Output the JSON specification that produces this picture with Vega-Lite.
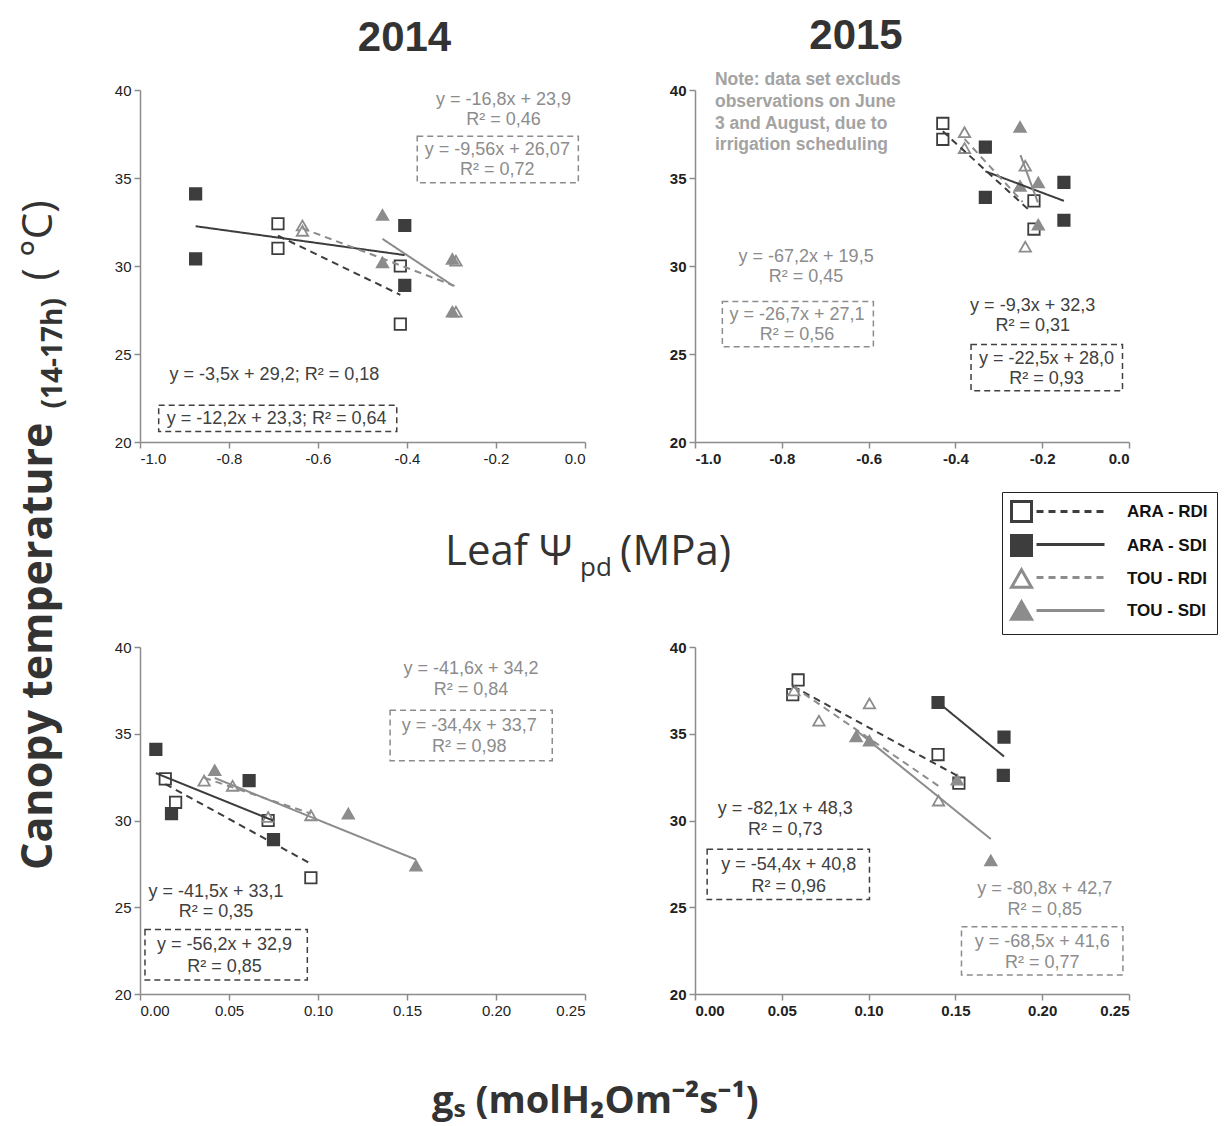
{
  "$schema": "https://vega.github.io/schema/vega-lite/v6.json",
  "autosize": {"type": "none"},
  "padding": {"left": 140, "top": 90, "right": 1087, "bottom": 1036},
  "background": "white",
  "config": {
    "locale": {"number": {"decimal": ".", "thousands": ",", "grouping": [3], "currency": ["", ""], "minus": "-"}},
    "view": {"stroke": null},
    "axis": {"grid": false, "domainColor": "#8c8c8c", "domainWidth": 1.5, "tickColor": "#8c8c8c", "tickWidth": 1.5, "tickSize": 6, "labelFont": "Liberation Sans", "labelFontSize": 15, "labelColor": "#222", "labelPadding": 3}
  },
  "datasets": {
    "points": [
      {"panel": "psi14", "series": "ARA - RDI", "x": -0.69, "y": 32.4},
      {"panel": "psi14", "series": "ARA - RDI", "x": -0.69, "y": 31.0},
      {"panel": "psi14", "series": "ARA - RDI", "x": -0.415, "y": 30.0},
      {"panel": "psi14", "series": "ARA - RDI", "x": -0.415, "y": 26.7},
      {"panel": "psi14", "series": "ARA - SDI", "x": -0.875, "y": 34.1},
      {"panel": "psi14", "series": "ARA - SDI", "x": -0.875, "y": 30.4},
      {"panel": "psi14", "series": "ARA - SDI", "x": -0.405, "y": 32.3},
      {"panel": "psi14", "series": "ARA - SDI", "x": -0.405, "y": 28.9},
      {"panel": "psi14", "series": "TOU - RDI", "x": -0.635, "y": 32.3},
      {"panel": "psi14", "series": "TOU - RDI", "x": -0.635, "y": 32.0},
      {"panel": "psi14", "series": "TOU - RDI", "x": -0.29, "y": 30.3},
      {"panel": "psi14", "series": "TOU - RDI", "x": -0.29, "y": 27.4},
      {"panel": "psi14", "series": "TOU - SDI", "x": -0.455, "y": 32.9},
      {"panel": "psi14", "series": "TOU - SDI", "x": -0.455, "y": 30.2},
      {"panel": "psi14", "series": "TOU - SDI", "x": -0.298, "y": 30.4},
      {"panel": "psi14", "series": "TOU - SDI", "x": -0.298, "y": 27.4},

      {"panel": "psi15", "series": "ARA - RDI", "x": -0.429, "y": 38.1},
      {"panel": "psi15", "series": "ARA - RDI", "x": -0.429, "y": 37.2},
      {"panel": "psi15", "series": "ARA - RDI", "x": -0.219, "y": 33.7},
      {"panel": "psi15", "series": "ARA - RDI", "x": -0.219, "y": 32.1},
      {"panel": "psi15", "series": "ARA - SDI", "x": -0.331, "y": 36.75},
      {"panel": "psi15", "series": "ARA - SDI", "x": -0.331, "y": 33.9},
      {"panel": "psi15", "series": "ARA - SDI", "x": -0.15, "y": 34.75},
      {"panel": "psi15", "series": "ARA - SDI", "x": -0.15, "y": 32.6},
      {"panel": "psi15", "series": "TOU - RDI", "x": -0.379, "y": 37.6},
      {"panel": "psi15", "series": "TOU - RDI", "x": -0.379, "y": 36.7},
      {"panel": "psi15", "series": "TOU - RDI", "x": -0.239, "y": 35.7},
      {"panel": "psi15", "series": "TOU - RDI", "x": -0.239, "y": 31.1},
      {"panel": "psi15", "series": "TOU - SDI", "x": -0.251, "y": 37.9},
      {"panel": "psi15", "series": "TOU - SDI", "x": -0.251, "y": 34.55},
      {"panel": "psi15", "series": "TOU - SDI", "x": -0.209, "y": 34.75},
      {"panel": "psi15", "series": "TOU - SDI", "x": -0.209, "y": 32.35},

      {"panel": "gs14", "series": "ARA - RDI", "x": 0.0142, "y": 32.4},
      {"panel": "gs14", "series": "ARA - RDI", "x": 0.02, "y": 31.05},
      {"panel": "gs14", "series": "ARA - RDI", "x": 0.072, "y": 30.0},
      {"panel": "gs14", "series": "ARA - RDI", "x": 0.096, "y": 26.7},
      {"panel": "gs14", "series": "ARA - SDI", "x": 0.0089, "y": 34.1},
      {"panel": "gs14", "series": "ARA - SDI", "x": 0.0177, "y": 30.4},
      {"panel": "gs14", "series": "ARA - SDI", "x": 0.0613, "y": 32.3},
      {"panel": "gs14", "series": "ARA - SDI", "x": 0.075, "y": 28.9},
      {"panel": "gs14", "series": "TOU - RDI", "x": 0.036, "y": 32.3},
      {"panel": "gs14", "series": "TOU - RDI", "x": 0.052, "y": 32.0},
      {"panel": "gs14", "series": "TOU - RDI", "x": 0.072, "y": 30.2},
      {"panel": "gs14", "series": "TOU - RDI", "x": 0.096, "y": 30.3},
      {"panel": "gs14", "series": "TOU - SDI", "x": 0.042, "y": 32.9},
      {"panel": "gs14", "series": "TOU - SDI", "x": 0.117, "y": 30.4},
      {"panel": "gs14", "series": "TOU - SDI", "x": 0.155, "y": 27.4},

      {"panel": "gs15", "series": "ARA - RDI", "x": 0.0563, "y": 37.25},
      {"panel": "gs15", "series": "ARA - RDI", "x": 0.0594, "y": 38.1},
      {"panel": "gs15", "series": "ARA - RDI", "x": 0.14, "y": 33.8},
      {"panel": "gs15", "series": "ARA - RDI", "x": 0.152, "y": 32.15},
      {"panel": "gs15", "series": "ARA - SDI", "x": 0.14, "y": 36.8},
      {"panel": "gs15", "series": "ARA - SDI", "x": 0.178, "y": 34.8},
      {"panel": "gs15", "series": "ARA - SDI", "x": 0.1776, "y": 32.6},
      {"panel": "gs15", "series": "TOU - RDI", "x": 0.057, "y": 37.5},
      {"panel": "gs15", "series": "TOU - RDI", "x": 0.0714, "y": 35.75},
      {"panel": "gs15", "series": "TOU - RDI", "x": 0.1005, "y": 36.75},
      {"panel": "gs15", "series": "TOU - RDI", "x": 0.1403, "y": 31.15},
      {"panel": "gs15", "series": "TOU - SDI", "x": 0.0928, "y": 34.85},
      {"panel": "gs15", "series": "TOU - SDI", "x": 0.1005, "y": 34.6},
      {"panel": "gs15", "series": "TOU - SDI", "x": 0.151, "y": 32.35},
      {"panel": "gs15", "series": "TOU - SDI", "x": 0.1704, "y": 27.7}
    ],
    "trends": [
      {"panel": "psi14", "trend": "ARA - RDI", "x": -0.69, "y": 31.72},
      {"panel": "psi14", "trend": "ARA - RDI", "x": -0.415, "y": 28.36},
      {"panel": "psi14", "trend": "ARA - SDI", "x": -0.875, "y": 32.26},
      {"panel": "psi14", "trend": "ARA - SDI", "x": -0.405, "y": 30.62},
      {"panel": "psi14", "trend": "TOU - RDI", "x": -0.635, "y": 32.14},
      {"panel": "psi14", "trend": "TOU - RDI", "x": -0.293, "y": 28.87},
      {"panel": "psi14", "trend": "TOU - SDI", "x": -0.455, "y": 31.54},
      {"panel": "psi14", "trend": "TOU - SDI", "x": -0.296, "y": 28.87},

      {"panel": "psi15", "trend": "ARA - RDI", "x": -0.429, "y": 37.65},
      {"panel": "psi15", "trend": "ARA - RDI", "x": -0.225, "y": 33.06},
      {"panel": "psi15", "trend": "ARA - SDI", "x": -0.331, "y": 35.38},
      {"panel": "psi15", "trend": "ARA - SDI", "x": -0.15, "y": 33.7},
      {"panel": "psi15", "trend": "TOU - RDI", "x": -0.379, "y": 37.22},
      {"panel": "psi15", "trend": "TOU - RDI", "x": -0.245, "y": 33.64},
      {"panel": "psi15", "trend": "TOU - SDI", "x": -0.25, "y": 36.3},
      {"panel": "psi15", "trend": "TOU - SDI", "x": -0.21, "y": 33.61},

      {"panel": "gs14", "trend": "ARA - RDI", "x": 0.0142, "y": 32.1},
      {"panel": "gs14", "trend": "ARA - RDI", "x": 0.097, "y": 27.45},
      {"panel": "gs14", "trend": "ARA - SDI", "x": 0.0089, "y": 32.73},
      {"panel": "gs14", "trend": "ARA - SDI", "x": 0.075, "y": 29.99},
      {"panel": "gs14", "trend": "TOU - RDI", "x": 0.036, "y": 32.46},
      {"panel": "gs14", "trend": "TOU - RDI", "x": 0.096, "y": 30.4},
      {"panel": "gs14", "trend": "TOU - SDI", "x": 0.042, "y": 32.45},
      {"panel": "gs14", "trend": "TOU - SDI", "x": 0.155, "y": 27.75},

      {"panel": "gs15", "trend": "ARA - RDI", "x": 0.0563, "y": 37.74},
      {"panel": "gs15", "trend": "ARA - RDI", "x": 0.152, "y": 32.53},
      {"panel": "gs15", "trend": "ARA - SDI", "x": 0.14, "y": 36.81},
      {"panel": "gs15", "trend": "ARA - SDI", "x": 0.178, "y": 33.69},
      {"panel": "gs15", "trend": "TOU - RDI", "x": 0.057, "y": 37.7},
      {"panel": "gs15", "trend": "TOU - RDI", "x": 0.1403, "y": 31.99},
      {"panel": "gs15", "trend": "TOU - SDI", "x": 0.0928, "y": 35.2},
      {"panel": "gs15", "trend": "TOU - SDI", "x": 0.1704, "y": 28.93}
    ],
    "notes": [
      {"panel": "psi14", "grp": "TOU", "x": -0.183, "y": 39.43, "text": "y = -16,8x + 23,9"},
      {"panel": "psi14", "grp": "TOU", "x": -0.183, "y": 38.28, "text": "R² = 0,46"},
      {"panel": "psi14", "grp": "TOU", "x": -0.197, "y": 36.61, "text": "y = -9,56x + 26,07"},
      {"panel": "psi14", "grp": "TOU", "x": -0.197, "y": 35.44, "text": "R² = 0,72"},
      {"panel": "psi14", "grp": "ARA", "x": -0.698, "y": 23.81, "text": "y = -3,5x + 29,2; R² = 0,18"},
      {"panel": "psi14", "grp": "ARA", "x": -0.693, "y": 21.32, "text": "y = -12,2x + 23,3; R² = 0,64"},

      {"panel": "psi15", "grp": "TOU", "x": -0.744, "y": 30.52, "text": "y = -67,2x + 19,5"},
      {"panel": "psi15", "grp": "TOU", "x": -0.744, "y": 29.39, "text": "R² = 0,45"},
      {"panel": "psi15", "grp": "TOU", "x": -0.765, "y": 27.23, "text": "y = -26,7x + 27,1"},
      {"panel": "psi15", "grp": "TOU", "x": -0.765, "y": 26.1, "text": "R² = 0,56"},
      {"panel": "psi15", "grp": "ARA", "x": -0.222, "y": 27.7, "text": "y = -9,3x + 32,3"},
      {"panel": "psi15", "grp": "ARA", "x": -0.222, "y": 26.57, "text": "R² = 0,31"},
      {"panel": "psi15", "grp": "ARA", "x": -0.19, "y": 24.69, "text": "y = -22,5x + 28,0"},
      {"panel": "psi15", "grp": "ARA", "x": -0.19, "y": 23.57, "text": "R² = 0,93"},

      {"panel": "gs14", "grp": "TOU", "x": 0.186, "y": 38.72, "text": "y = -41,6x + 34,2"},
      {"panel": "gs14", "grp": "TOU", "x": 0.186, "y": 37.51, "text": "R² = 0,84"},
      {"panel": "gs14", "grp": "TOU", "x": 0.185, "y": 35.46, "text": "y = -34,4x + 33,7"},
      {"panel": "gs14", "grp": "TOU", "x": 0.185, "y": 34.21, "text": "R² = 0,98"},
      {"panel": "gs14", "grp": "ARA", "x": 0.0427, "y": 25.88, "text": "y = -41,5x + 33,1"},
      {"panel": "gs14", "grp": "ARA", "x": 0.0427, "y": 24.73, "text": "R² = 0,35"},
      {"panel": "gs14", "grp": "ARA", "x": 0.0475, "y": 22.82, "text": "y = -56,2x + 32,9"},
      {"panel": "gs14", "grp": "ARA", "x": 0.0475, "y": 21.57, "text": "R² = 0,85"},

      {"panel": "gs15", "grp": "ARA", "x": 0.052, "y": 30.64, "text": "y = -82,1x + 48,3"},
      {"panel": "gs15", "grp": "ARA", "x": 0.052, "y": 29.48, "text": "R² = 0,73"},
      {"panel": "gs15", "grp": "ARA", "x": 0.054, "y": 27.44, "text": "y = -54,4x + 40,8"},
      {"panel": "gs15", "grp": "ARA", "x": 0.054, "y": 26.17, "text": "R² = 0,96"},
      {"panel": "gs15", "grp": "TOU", "x": 0.2015, "y": 26.08, "text": "y = -80,8x + 42,7"},
      {"panel": "gs15", "grp": "TOU", "x": 0.2015, "y": 24.85, "text": "R² = 0,85"},
      {"panel": "gs15", "grp": "TOU", "x": 0.2, "y": 22.97, "text": "y = -68,5x + 41,6"},
      {"panel": "gs15", "grp": "TOU", "x": 0.2, "y": 21.77, "text": "R² = 0,77"}
    ],
    "boxes": [
      {"panel": "psi14", "grp": "TOU", "x": -0.377, "x2": -0.015, "y": 34.73, "y2": 37.37},
      {"panel": "psi14", "grp": "ARA", "x": -0.958, "x2": -0.423, "y": 20.59, "y2": 22.09},
      {"panel": "psi15", "grp": "TOU", "x": -0.937, "x2": -0.589, "y": 25.41, "y2": 27.98},
      {"panel": "psi15", "grp": "ARA", "x": -0.364, "x2": -0.015, "y": 22.91, "y2": 25.54},
      {"panel": "gs14", "grp": "TOU", "x": 0.1405, "x2": 0.2316, "y": 33.45, "y2": 36.36},
      {"panel": "gs14", "grp": "ARA", "x": 0.0028, "x2": 0.094, "y": 20.8, "y2": 23.72},
      {"panel": "gs15", "grp": "ARA", "x": 0.007, "x2": 0.1005, "y": 25.44, "y2": 28.35},
      {"panel": "gs15", "grp": "TOU", "x": 0.1535, "x2": 0.2465, "y": 21.09, "y2": 23.88}
    ],
    "note2015": [
      {"x": -0.954, "y": 40.56, "text": "Note: data set excluds"},
      {"x": -0.954, "y": 39.3, "text": "observations on  June"},
      {"x": -0.954, "y": 38.07, "text": "3 and August, due to"},
      {"x": -0.954, "y": 36.85, "text": "irrigation scheduling"}
    ]
  },
  "columns": 2,
  "spacing": {"row": 205, "column": 110},
  "bounds": "flush",
  "resolve": {"scale": {"x": "independent", "y": "independent", "color": "independent", "fill": "independent", "stroke": "independent", "shape": "independent", "strokeDash": "independent"}},
  "concat": [
    {
      "width": 445, "height": 352,
      "title": {"text": "2014", "frame": "group", "anchor": "middle", "dx": 42, "dy": 42, "offset": 32, "baseline": "alphabetic", "font": "Liberation Sans", "fontSize": 42, "fontWeight": "bold", "color": "#333"},
      "resolve": {"scale": {"color": "independent", "fill": "independent", "stroke": "independent", "shape": "independent", "strokeDash": "independent"}},
      "layer": [
        {
          "data": {"name": "points"},
          "transform": [{"filter": "datum.panel == 'psi14'"}],
          "mark": {"type": "point", "filled": true, "opacity": 1, "size": 130, "strokeWidth": 1.8},
          "encoding": {
            "x": {"field": "x", "type": "quantitative", "scale": {"domain": [-1, 0], "nice": false, "zero": false}, "axis": {"title": null, "values": [-1, -0.8, -0.6, -0.4, -0.2, 0], "format": ".1f"}},
            "y": {"field": "y", "type": "quantitative", "scale": {"domain": [20, 40], "nice": false, "zero": false}, "axis": {"title": null, "values": [20, 25, 30, 35, 40]}},
            "shape": {"field": "series", "type": "nominal", "scale": {"domain": ["ARA - RDI", "ARA - SDI", "TOU - RDI", "TOU - SDI"], "range": ["square", "square", "triangle-up", "triangle-up"]}, "legend": null},
            "fill": {"field": "series", "type": "nominal", "scale": {"domain": ["ARA - RDI", "ARA - SDI", "TOU - RDI", "TOU - SDI"], "range": ["#ffffff", "#3d3d3d", "#ffffff", "#8c8c8c"]}, "legend": null},
            "stroke": {"field": "series", "type": "nominal", "scale": {"domain": ["ARA - RDI", "ARA - SDI", "TOU - RDI", "TOU - SDI"], "range": ["#3d3d3d", "#3d3d3d", "#8c8c8c", "#8c8c8c"]}, "legend": null}
          }
        },
        {
          "data": {"name": "trends"},
          "transform": [{"filter": "datum.panel == 'psi14'"}],
          "mark": {"type": "line", "strokeWidth": 2},
          "encoding": {
            "x": {"field": "x", "type": "quantitative"},
            "y": {"field": "y", "type": "quantitative"},
            "color": {"field": "trend", "type": "nominal", "scale": {"range": ["#3d3d3d", "#3d3d3d", "#8c8c8c", "#8c8c8c"]}, "legend": null},
            "strokeDash": {"field": "trend", "type": "nominal", "scale": {"range": [[7, 5], [1, 0], [7, 5], [1, 0]]}, "legend": null}
          }
        },
        {
          "data": {"name": "boxes"},
          "transform": [{"filter": "datum.panel == 'psi14'"}],
          "mark": {"type": "rect", "filled": false, "strokeDash": [6, 4], "strokeWidth": 1.5},
          "encoding": {
            "x": {"field": "x", "type": "quantitative"}, "x2": {"field": "x2"},
            "y": {"field": "y", "type": "quantitative"}, "y2": {"field": "y2"},
            "stroke": {"field": "grp", "type": "nominal", "scale": {"domain": ["ARA", "TOU"], "range": ["#404040", "#8c8c8c"]}, "legend": null}
          }
        },
        {
          "data": {"name": "notes"},
          "transform": [{"filter": "datum.panel == 'psi14'"}],
          "mark": {"type": "text", "font": "Liberation Sans", "fontSize": 18, "align": "center", "baseline": "middle"},
          "encoding": {
            "x": {"field": "x", "type": "quantitative"},
            "y": {"field": "y", "type": "quantitative"},
            "text": {"field": "text"},
            "color": {"field": "grp", "type": "nominal", "scale": {"domain": ["ARA", "TOU"], "range": ["#404040", "#8c8c8c"]}, "legend": null}
          }
        },
        {
          "data": {"values": [{"t": "Leaf Ψ"}]},
          "mark": {"type": "text", "align": "left", "baseline": "alphabetic", "dx": 82.5, "dy": 299, "font": "Open Sans", "fontSize": 42, "color": "#333"},
          "encoding": {"text": {"field": "t"}}
        },
        {
          "data": {"values": [{"t": "pd"}]},
          "mark": {"type": "text", "align": "left", "baseline": "alphabetic", "dx": 217.5, "dy": 310, "font": "Open Sans", "fontSize": 26, "color": "#333"},
          "encoding": {"text": {"field": "t"}}
        },
        {
          "data": {"values": [{"t": "(MPa)"}]},
          "mark": {"type": "text", "align": "left", "baseline": "alphabetic", "dx": 257.5, "dy": 299, "font": "Open Sans", "fontSize": 42, "color": "#333"},
          "encoding": {"text": {"field": "t"}}
        }
      ]
    },
    {
      "width": 434, "height": 352,
      "title": {"text": "2015", "frame": "group", "anchor": "middle", "dx": -56, "dy": 42, "offset": 22, "baseline": "alphabetic", "font": "Liberation Sans", "fontSize": 42, "fontWeight": "bold", "color": "#333"},
      "resolve": {"scale": {"color": "independent", "fill": "independent", "stroke": "independent", "shape": "independent", "strokeDash": "independent"}},
      "layer": [
        {
          "data": {"name": "points"},
          "transform": [{"filter": "datum.panel == 'psi15'"}],
          "mark": {"type": "point", "filled": true, "opacity": 1, "size": 130, "strokeWidth": 1.8},
          "encoding": {
            "x": {"field": "x", "type": "quantitative", "scale": {"domain": [-1, 0], "nice": false, "zero": false}, "axis": {"title": null, "values": [-1, -0.8, -0.6, -0.4, -0.2, 0], "format": ".1f", "labelFontWeight": "bold"}},
            "y": {"field": "y", "type": "quantitative", "scale": {"domain": [20, 40], "nice": false, "zero": false}, "axis": {"title": null, "values": [20, 25, 30, 35, 40], "labelFontWeight": "bold"}},
            "shape": {"field": "series", "type": "nominal", "scale": {"domain": ["ARA - RDI", "ARA - SDI", "TOU - RDI", "TOU - SDI"], "range": ["square", "square", "triangle-up", "triangle-up"]}, "legend": null},
            "fill": {"field": "series", "type": "nominal", "scale": {"domain": ["ARA - RDI", "ARA - SDI", "TOU - RDI", "TOU - SDI"], "range": ["#ffffff", "#3d3d3d", "#ffffff", "#8c8c8c"]}, "legend": null},
            "stroke": {"field": "series", "type": "nominal", "scale": {"domain": ["ARA - RDI", "ARA - SDI", "TOU - RDI", "TOU - SDI"], "range": ["#3d3d3d", "#3d3d3d", "#8c8c8c", "#8c8c8c"]}, "legend": null}
          }
        },
        {
          "data": {"name": "trends"},
          "transform": [{"filter": "datum.panel == 'psi15'"}],
          "mark": {"type": "line", "strokeWidth": 2},
          "encoding": {
            "x": {"field": "x", "type": "quantitative"},
            "y": {"field": "y", "type": "quantitative"},
            "color": {"field": "trend", "type": "nominal", "scale": {"range": ["#3d3d3d", "#3d3d3d", "#8c8c8c", "#8c8c8c"]}, "legend": null},
            "strokeDash": {"field": "trend", "type": "nominal", "scale": {"range": [[7, 5], [1, 0], [7, 5], [1, 0]]}, "legend": null}
          }
        },
        {
          "data": {"name": "boxes"},
          "transform": [{"filter": "datum.panel == 'psi15'"}],
          "mark": {"type": "rect", "filled": false, "strokeDash": [6, 4], "strokeWidth": 1.5},
          "encoding": {
            "x": {"field": "x", "type": "quantitative"}, "x2": {"field": "x2"},
            "y": {"field": "y", "type": "quantitative"}, "y2": {"field": "y2"},
            "stroke": {"field": "grp", "type": "nominal", "scale": {"domain": ["ARA", "TOU"], "range": ["#404040", "#8c8c8c"]}, "legend": null}
          }
        },
        {
          "data": {"name": "notes"},
          "transform": [{"filter": "datum.panel == 'psi15'"}],
          "mark": {"type": "text", "font": "Liberation Sans", "fontSize": 18, "align": "center", "baseline": "middle"},
          "encoding": {
            "x": {"field": "x", "type": "quantitative"},
            "y": {"field": "y", "type": "quantitative"},
            "text": {"field": "text"},
            "color": {"field": "grp", "type": "nominal", "scale": {"domain": ["ARA", "TOU"], "range": ["#404040", "#8c8c8c"]}, "legend": null}
          }
        },
        {
          "data": {"name": "note2015"},
          "mark": {"type": "text", "font": "Liberation Sans", "fontSize": 17.5, "fontWeight": "bold", "align": "left", "baseline": "middle", "color": "#a3a3a3"},
          "encoding": {
            "x": {"field": "x", "type": "quantitative"},
            "y": {"field": "y", "type": "quantitative"},
            "text": {"field": "text"}
          }
        }
      ]
    },
    {
      "width": 445, "height": 347,
      "resolve": {"scale": {"color": "independent", "fill": "independent", "stroke": "independent", "shape": "independent", "strokeDash": "independent"}},
      "layer": [
        {
          "data": {"name": "points"},
          "transform": [{"filter": "datum.panel == 'gs14'"}],
          "mark": {"type": "point", "filled": true, "opacity": 1, "size": 130, "strokeWidth": 1.8},
          "encoding": {
            "x": {"field": "x", "type": "quantitative", "scale": {"domain": [0, 0.25], "nice": false, "zero": false}, "axis": {"title": null, "values": [0, 0.05, 0.1, 0.15, 0.2, 0.25], "format": ".2f"}},
            "y": {"field": "y", "type": "quantitative", "scale": {"domain": [20, 40], "nice": false, "zero": false}, "axis": {"title": null, "values": [20, 25, 30, 35, 40]}},
            "shape": {"field": "series", "type": "nominal", "scale": {"domain": ["ARA - RDI", "ARA - SDI", "TOU - RDI", "TOU - SDI"], "range": ["square", "square", "triangle-up", "triangle-up"]}, "legend": null},
            "fill": {"field": "series", "type": "nominal", "scale": {"domain": ["ARA - RDI", "ARA - SDI", "TOU - RDI", "TOU - SDI"], "range": ["#ffffff", "#3d3d3d", "#ffffff", "#8c8c8c"]}, "legend": null},
            "stroke": {"field": "series", "type": "nominal", "scale": {"domain": ["ARA - RDI", "ARA - SDI", "TOU - RDI", "TOU - SDI"], "range": ["#3d3d3d", "#3d3d3d", "#8c8c8c", "#8c8c8c"]}, "legend": null}
          }
        },
        {
          "data": {"name": "trends"},
          "transform": [{"filter": "datum.panel == 'gs14'"}],
          "mark": {"type": "line", "strokeWidth": 2},
          "encoding": {
            "x": {"field": "x", "type": "quantitative"},
            "y": {"field": "y", "type": "quantitative"},
            "color": {"field": "trend", "type": "nominal", "scale": {"range": ["#3d3d3d", "#3d3d3d", "#8c8c8c", "#8c8c8c"]}, "legend": null},
            "strokeDash": {"field": "trend", "type": "nominal", "scale": {"range": [[7, 5], [1, 0], [7, 5], [1, 0]]}, "legend": null}
          }
        },
        {
          "data": {"name": "boxes"},
          "transform": [{"filter": "datum.panel == 'gs14'"}],
          "mark": {"type": "rect", "filled": false, "strokeDash": [6, 4], "strokeWidth": 1.5},
          "encoding": {
            "x": {"field": "x", "type": "quantitative"}, "x2": {"field": "x2"},
            "y": {"field": "y", "type": "quantitative"}, "y2": {"field": "y2"},
            "stroke": {"field": "grp", "type": "nominal", "scale": {"domain": ["ARA", "TOU"], "range": ["#404040", "#8c8c8c"]}, "legend": null}
          }
        },
        {
          "data": {"name": "notes"},
          "transform": [{"filter": "datum.panel == 'gs14'"}],
          "mark": {"type": "text", "font": "Liberation Sans", "fontSize": 18, "align": "center", "baseline": "middle"},
          "encoding": {
            "x": {"field": "x", "type": "quantitative"},
            "y": {"field": "y", "type": "quantitative"},
            "text": {"field": "text"},
            "color": {"field": "grp", "type": "nominal", "scale": {"domain": ["ARA", "TOU"], "range": ["#404040", "#8c8c8c"]}, "legend": null}
          }
        },
        {
          "data": {"values": [{"t": "Canopy temperature"}]},
          "mark": {"type": "text", "angle": 270, "align": "left", "baseline": "alphabetic", "dx": -49.5, "dy": -310.5, "font": "Open Sans", "fontSize": 43, "fontWeight": "bold", "color": "#333"},
          "encoding": {"text": {"field": "t"}}
        },
        {
          "data": {"values": [{"t": "(14-17h)"}]},
          "mark": {"type": "text", "angle": 270, "align": "left", "baseline": "alphabetic", "dx": 412, "dy": -300.5, "font": "Open Sans", "fontSize": 28, "fontWeight": "bold", "color": "#333"},
          "encoding": {"text": {"field": "t"}}
        },
        {
          "data": {"values": [{"t": "( °C)"}]},
          "mark": {"type": "text", "angle": 270, "align": "left", "baseline": "alphabetic", "dx": 540, "dy": -310.5, "font": "Open Sans", "fontSize": 42, "color": "#333"},
          "encoding": {"text": {"field": "t"}}
        },
        {
          "data": {"values": [{"t": "gₛ (molH₂Om⁻²s⁻¹)"}]},
          "mark": {"type": "text", "align": "left", "baseline": "alphabetic", "dx": 69.5, "dy": 292.5, "font": "Open Sans", "fontSize": 38, "fontWeight": "bold", "color": "#333"},
          "encoding": {"text": {"field": "t"}}
        }
      ]
    },
    {
      "width": 434, "height": 347,
      "resolve": {"scale": {"color": "independent", "fill": "independent", "stroke": "independent", "shape": "independent", "strokeDash": "independent"}},
      "layer": [
        {
          "data": {"name": "points"},
          "transform": [{"filter": "datum.panel == 'gs15'"}],
          "mark": {"type": "point", "filled": true, "opacity": 1, "size": 130, "strokeWidth": 1.8},
          "encoding": {
            "x": {"field": "x", "type": "quantitative", "scale": {"domain": [0, 0.25], "nice": false, "zero": false}, "axis": {"title": null, "values": [0, 0.05, 0.1, 0.15, 0.2, 0.25], "format": ".2f", "labelFontWeight": "bold"}},
            "y": {"field": "y", "type": "quantitative", "scale": {"domain": [20, 40], "nice": false, "zero": false}, "axis": {"title": null, "values": [20, 25, 30, 35, 40], "labelFontWeight": "bold"}},
            "shape": {"field": "series", "type": "nominal", "scale": {"domain": ["ARA - RDI", "ARA - SDI", "TOU - RDI", "TOU - SDI"], "range": ["square", "square", "triangle-up", "triangle-up"]},
              "legend": {"orient": "none", "legendX": 307, "legendY": -155, "title": null, "symbolSize": 400, "symbolStrokeWidth": 3, "labelFont": "Liberation Sans", "labelFontSize": 17, "labelFontWeight": "bold", "labelColor": "#111", "labelOffset": 94, "rowPadding": 1, "padding": 8, "strokeColor": "#222", "encode": {"legend": {"update": {"strokeWidth": {"value": 3}}}}}},
            "fill": {"field": "series", "type": "nominal", "scale": {"domain": ["ARA - RDI", "ARA - SDI", "TOU - RDI", "TOU - SDI"], "range": ["#ffffff", "#3d3d3d", "#ffffff", "#8c8c8c"]},
              "legend": {"orient": "none", "legendX": 307, "legendY": -155, "title": null, "symbolSize": 400, "symbolStrokeWidth": 3, "labelFont": "Liberation Sans", "labelFontSize": 17, "labelFontWeight": "bold", "labelColor": "#111", "labelOffset": 94, "rowPadding": 1, "padding": 8, "strokeColor": "#222"}},
            "stroke": {"field": "series", "type": "nominal", "scale": {"domain": ["ARA - RDI", "ARA - SDI", "TOU - RDI", "TOU - SDI"], "range": ["#3d3d3d", "#3d3d3d", "#8c8c8c", "#8c8c8c"]},
              "legend": {"orient": "none", "legendX": 307, "legendY": -155, "title": null, "symbolSize": 400, "symbolStrokeWidth": 3, "labelFont": "Liberation Sans", "labelFontSize": 17, "labelFontWeight": "bold", "labelColor": "#111", "labelOffset": 94, "rowPadding": 1, "padding": 8, "strokeColor": "#222"}}
          }
        },
        {
          "data": {"name": "trends"},
          "transform": [{"filter": "datum.panel == 'gs15'"}],
          "mark": {"type": "line", "strokeWidth": 2},
          "encoding": {
            "x": {"field": "x", "type": "quantitative"},
            "y": {"field": "y", "type": "quantitative"},
            "color": {"field": "trend", "type": "nominal", "scale": {"range": ["#3d3d3d", "#3d3d3d", "#8c8c8c", "#8c8c8c"]},
              "legend": {"orient": "none", "legendX": 356, "legendY": -155, "title": null, "symbolType": "M-3.4,0H3.4", "symbolSize": 400, "symbolStrokeWidth": 3, "symbolFillColor": "transparent", "labelExpr": "''", "labelFontSize": 17, "rowPadding": 13, "padding": 8}},
            "strokeDash": {"field": "trend", "type": "nominal", "scale": {"range": [[7, 5], [1, 0], [7, 5], [1, 0]]},
              "legend": {"orient": "none", "legendX": 356, "legendY": -155, "title": null, "symbolType": "M-3.4,0H3.4", "symbolSize": 400, "symbolStrokeWidth": 3, "symbolFillColor": "transparent", "labelExpr": "''", "labelFontSize": 17, "rowPadding": 13, "padding": 8}}
          }
        },
        {
          "data": {"name": "boxes"},
          "transform": [{"filter": "datum.panel == 'gs15'"}],
          "mark": {"type": "rect", "filled": false, "strokeDash": [6, 4], "strokeWidth": 1.5},
          "encoding": {
            "x": {"field": "x", "type": "quantitative"}, "x2": {"field": "x2"},
            "y": {"field": "y", "type": "quantitative"}, "y2": {"field": "y2"},
            "stroke": {"field": "grp", "type": "nominal", "scale": {"domain": ["ARA", "TOU"], "range": ["#404040", "#8c8c8c"]}, "legend": null}
          }
        },
        {
          "data": {"name": "notes"},
          "transform": [{"filter": "datum.panel == 'gs15'"}],
          "mark": {"type": "text", "font": "Liberation Sans", "fontSize": 18, "align": "center", "baseline": "middle"},
          "encoding": {
            "x": {"field": "x", "type": "quantitative"},
            "y": {"field": "y", "type": "quantitative"},
            "text": {"field": "text"},
            "color": {"field": "grp", "type": "nominal", "scale": {"domain": ["ARA", "TOU"], "range": ["#404040", "#8c8c8c"]}, "legend": null}
          }
        }
      ]
    }
  ]
}
